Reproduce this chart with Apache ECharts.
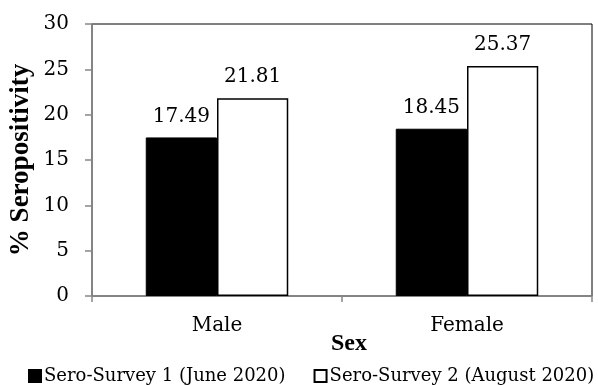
<!DOCTYPE html>
<html>
<head>
<meta charset="utf-8">
<script src="https://cdn.jsdelivr.net/npm/echarts@6/dist/echarts.min.js"></script>
<style>
  html, body { margin: 0; padding: 0; background: #fff; }
  #chart { width: 598px; height: 385px; }
</style>
</head>
<body>
<div id="chart"></div>
<script>
// Seropositivity by sex across two sero-surveys
const categories = ['Male', 'Female'];
const survey1 = [17.49, 18.45];
const survey2 = [21.81, 25.37];
const seriesNames = ['Sero-Survey 1 (June 2020)', 'Sero-Survey 2 (August 2020)'];
const yTicks = [0, 5, 10, 15, 20, 25, 30];

const FONT = 'DejaVu Serif';
const TITLE_FONT = 'Liberation Serif';
const AXIS_GREY = '#868686';

const chart = echarts.init(document.getElementById('chart'), null, { renderer: 'canvas' });

const labelStyle = {
  show: true,
  position: 'top',
  distance: 11,
  fontFamily: FONT,
  fontSize: 20,
  color: '#000',
  formatter: p => p.value.toFixed(2)
};

chart.setOption({
  animation: false,
  backgroundColor: '#fff',
  grid: {
    left: 90, right: 6, top: 24, bottom: 89,
    show: true,
    borderColor: '#000',
    borderWidth: 1,
    backgroundColor: 'transparent'
  },
  legend: {
    orient: 'horizontal',
    bottom: 0,
    left: 28,
    width: 570,
    padding: 0,
    icon: 'rect',
    itemWidth: 12,
    itemHeight: 12,
    itemGap: 28,
    textStyle: { fontFamily: FONT, fontSize: 18, color: '#000', padding: [0, 0, 0, -2] },
    data: seriesNames
  },
  xAxis: {
    type: 'category',
    data: categories,
    name: 'Sex',
    nameLocation: 'middle',
    nameMoveOverlap: false,
    nameGap: 36,
    nameTextStyle: { fontFamily: TITLE_FONT, fontSize: 24, fontWeight: 'bold', color: '#000', padding: [0, 0, 0, 14] },
    axisLine: { lineStyle: { color: AXIS_GREY, width: 1.5 } },
    axisTick: { show: true, inside: false, length: 6, alignWithLabel: false, lineStyle: { color: AXIS_GREY, width: 1.5 } },
    axisLabel: { fontFamily: FONT, fontSize: 20, color: '#000', margin: 20 },
    splitLine: { show: false }
  },
  yAxis: {
    type: 'value',
    min: yTicks[0],
    max: yTicks[yTicks.length - 1],
    interval: 5,
    name: '% Seropositivity',
    nameLocation: 'middle',
    nameMoveOverlap: false,
    nameGap: 57,
    nameTextStyle: { fontFamily: TITLE_FONT, fontSize: 27, fontWeight: 'bold', color: '#000' },
    axisLine: { show: true, lineStyle: { color: AXIS_GREY, width: 1.5 } },
    axisTick: { show: true, inside: false, length: 7, lineStyle: { color: AXIS_GREY, width: 1.5 } },
    axisLabel: { fontFamily: FONT, fontSize: 20, color: '#000', margin: 23 },
    splitLine: { show: false }
  },
  series: [
    {
      name: seriesNames[0],
      type: 'bar',
      data: survey1,
      barGap: '0%',
      barCategoryGap: '43%',
      itemStyle: { color: '#000', borderColor: '#000', borderWidth: 1 },
      label: labelStyle
    },
    {
      name: seriesNames[1],
      type: 'bar',
      data: survey2,
      itemStyle: { color: '#fff', borderColor: '#000', borderWidth: 1.5 },
      label: labelStyle
    }
  ]
});
</script>
</body>
</html>
